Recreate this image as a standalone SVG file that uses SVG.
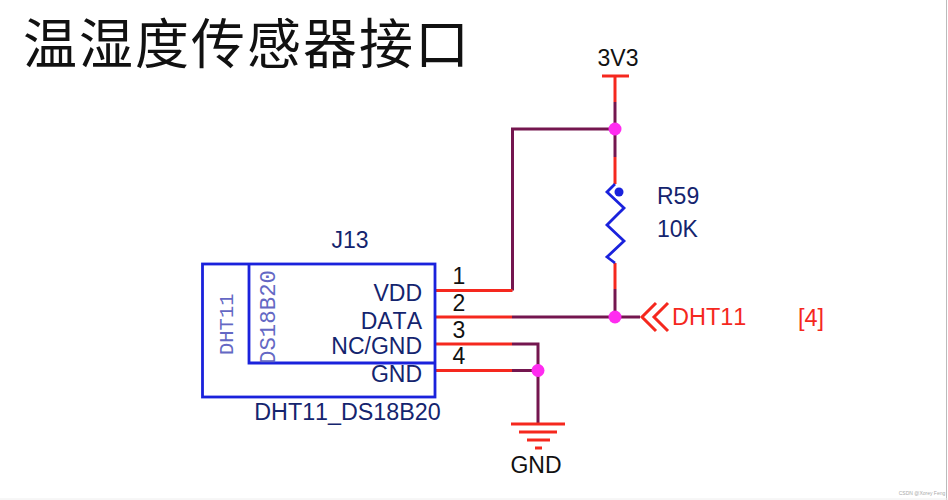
<svg xmlns="http://www.w3.org/2000/svg" width="948" height="500" viewBox="0 0 948 500">
<style>
text{font-family:"Liberation Sans",Arial,sans-serif;font-kerning:none}
.w{fill:none;stroke-width:3;stroke-linecap:butt;stroke-linejoin:miter}
.r{stroke:#f5281e}
.m{stroke:#74164f}
.b{fill:none;stroke:#1a22dc;stroke-width:2.800}
.j{fill:#ff2cf0}
.n{fill:#14246e;font-size:23px}
.k{fill:#111;font-size:23px}
.p{fill:#111;font-size:23px}
.t{fill:#f5281e;font-size:23.500px}
.v{fill:#6468c4;font-family:"Liberation Mono",monospace}
</style>
<rect width="948" height="500" fill="#fff"/>
<text x="23" y="64" font-size="54" letter-spacing="2" fill="#111" style="font-family:'Noto Sans CJK SC','Noto Sans CJK JP',sans-serif">温湿度传感器接口</text>
<g id="connectors">
<path class="w r" d="M615 76V102"/>
<path class="w m" d="M615 102V157"/>
<path class="w r" d="M615 157V184"/>
<path class="w r" d="M615 263V289"/>
<path class="w m" d="M615 289V317"/>
<path class="w m" d="M615 129H512.500V290.500"/>
<path class="w r" d="M512.500 290.500H434"/>
<path class="w r" d="M434 317H512"/>
<path class="w m" d="M512 317H640"/>
<path class="w r" d="M434 344H512"/>
<path class="w m" d="M512 344H538V423"/>
<path class="w r" d="M434 370.500H512"/>
<path class="w m" d="M512 370.500H538"/>
</g>
<g id="power-3v3">
<path class="w r" d="M602 76H629"/>
<text class="k" x="618" y="66" text-anchor="middle">3V3</text>
</g>
<g id="gnd">
<path class="w r" d="M511 424H565M519 432H557M527 440H550M535 448H542"/>
<text class="k" x="536" y="473" text-anchor="middle">GND</text>
</g>
<g id="R59">
<path class="b" d="M615 184L607 192L624 208L607 225L624 241L607 257L615 263"/>
<circle cx="619" cy="192" r="4.500" fill="#1a22dc"/>
<text class="n" x="657" y="204">R59</text>
<text class="n" x="657" y="237">10K</text>
</g>
<g id="J13">
<rect class="b" x="202.500" y="264" width="232.500" height="133"/>
<path class="b" d="M249 264V363H435"/>
<text class="n" x="350" y="248" text-anchor="middle">J13</text>
<text class="v" font-size="20.500" transform="translate(233 355) rotate(-90)">DHT11</text>
<text class="v" font-size="22.400" transform="translate(275 364) rotate(-90)">DS18B20</text>
<text class="n" x="422" y="301" text-anchor="end">VDD</text>
<text class="n" x="422" y="329" text-anchor="end">DATA</text>
<text class="n" x="422" y="354" text-anchor="end">NC/GND</text>
<text class="n" x="422" y="382" text-anchor="end">GND</text>
<text class="p" x="459" y="284" text-anchor="middle">1</text>
<text class="p" x="459" y="311" text-anchor="middle">2</text>
<text class="p" x="459" y="338" text-anchor="middle">3</text>
<text class="p" x="459" y="364" text-anchor="middle">4</text>
<text class="n" x="347.500" y="420" text-anchor="middle" style="font-size:23.300px">DHT11_DS18B20</text>
</g>
<g id="junctions">
<circle class="j" cx="615" cy="129" r="6.500"/>
<circle class="j" cx="615" cy="317" r="6.500"/>
<circle class="j" cx="538" cy="370.500" r="6.500"/>
</g>
<g id="port-DHT11">
<path class="w r" d="M656 303L642 317L656 331M668 303L654 317L668 331"/>
<text class="t" x="672" y="325">DHT11</text>
<text class="t" x="798" y="326">[4]</text>
</g>
<text x="922" y="495" font-size="5" fill="#aaa" text-anchor="middle">CSDN @Xorey Feng</text>
<path d="M946.500 0V500" stroke="#bbb" stroke-width="1" fill="none"/>
<path d="M0 499H948" stroke="#eee" stroke-width="1" fill="none"/>
</svg>
